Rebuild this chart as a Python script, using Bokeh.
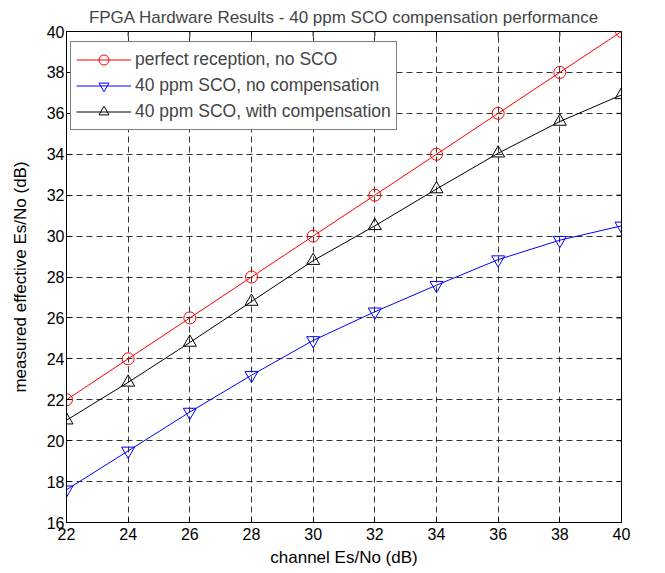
import math
from bokeh.plotting import figure
from bokeh.models import Range1d, FixedTicker
from bokeh.embed import file_html
from bokeh.resources import INLINE

x_vals = [22, 24, 26, 28, 30, 32, 34, 36, 38, 40]
perfect = [22, 24, 26, 28, 30, 32, 34, 36, 38, 40]
no_comp = [17.6, 19.5, 21.4, 23.2, 24.9, 26.3, 27.6, 28.85, 29.8, 30.5]
with_comp = [21.0, 22.85, 24.8, 26.8, 28.8, 30.5, 32.3, 34.05, 35.6, 36.9]
x_ticks = [22, 24, 26, 28, 30, 32, 34, 36, 38, 40]
y_ticks = [16, 18, 20, 22, 24, 26, 28, 30, 32, 34, 36, 38, 40]
x_lo, x_hi = 22, 40
y_lo, y_hi = 16, 40

FONT = "Liberation Sans"

p = figure(width=655, height=571, output_backend="svg", toolbar_location=None,
           x_range=Range1d(x_lo, x_hi), y_range=Range1d(y_lo, y_hi),
           title="FPGA Hardware Results - 40 ppm SCO compensation performance",
           x_axis_label="channel Es/No (dB)", y_axis_label="measured effective Es/No (dB)",
           min_border_left=66, min_border_right=34, min_border_top=31, min_border_bottom=49)

p.title.text_font = FONT
p.title.text_font_size = "17px"
p.title.text_font_style = "normal"
p.title.align = "center"
p.title.offset = 0
p.title.standoff = 9

p.outline_line_color = "black"
p.outline_line_width = 1
p.background_fill_color = "white"
p.border_fill_color = "white"

for ax in (p.xaxis[0], p.yaxis[0]):
    ax.major_label_text_font = FONT
    ax.major_label_text_font_size = "16px"
    ax.axis_label_text_font = FONT
    ax.axis_label_text_font_size = "17px"
    ax.axis_label_text_font_style = "normal"
    ax.major_tick_in = 5
    ax.major_tick_out = 0
    ax.minor_tick_line_color = None
    ax.axis_line_color = "black"
    ax.major_tick_line_color = "black"
    ax.major_label_text_color = "black"
    ax.axis_label_text_color = "black"

p.xaxis[0].major_label_standoff = 5
p.xaxis[0].axis_label_standoff = 5
p.yaxis[0].major_label_standoff = 2
p.yaxis[0].axis_label_standoff = 14

p.xaxis[0].ticker = FixedTicker(ticks=x_ticks)
p.yaxis[0].ticker = FixedTicker(ticks=y_ticks)

p.xgrid.ticker = FixedTicker(ticks=x_ticks)
p.ygrid.ticker = FixedTicker(ticks=y_ticks)
for g in (p.xgrid[0], p.ygrid[0]):
    g.grid_line_color = "black"
    g.grid_line_alpha = 0.8
    g.grid_line_dash = "6 4"
    g.grid_line_width = 1

# mirrored inward ticks on top and right edges
p.ray(x=x_ticks, y=[y_hi] * len(x_ticks), length=5, length_units="screen",
      angle=-math.pi / 2, color="black", line_width=1)
p.ray(x=[x_hi] * len(y_ticks), y=y_ticks, length=5, length_units="screen",
      angle=math.pi, color="black", line_width=1)

p.line(x_vals, perfect, color="red", line_width=1, legend_label="perfect reception, no SCO")
p.scatter(x_vals, perfect, marker="circle", size=12, line_color="red", fill_color=None,
          legend_label="perfect reception, no SCO")
p.line(x_vals, no_comp, color="blue", line_width=1, legend_label="40 ppm SCO, no compensation")
p.scatter(x_vals, no_comp, marker="inverted_triangle", size=13, line_color="blue", fill_color=None,
          legend_label="40 ppm SCO, no compensation")
p.line(x_vals, with_comp, color="black", line_width=1, legend_label="40 ppm SCO, with compensation")
p.scatter(x_vals, with_comp, marker="triangle", size=13, line_color="black", fill_color=None,
          legend_label="40 ppm SCO, with compensation")

lg = p.legend[0]
lg.location = (4, 392)
lg.margin = 0
lg.padding = 5
lg.spacing = 1
lg.glyph_width = 55
lg.glyph_height = 25
lg.label_height = 25
lg.label_text_font = FONT
lg.label_text_font_size = "17.5px"
lg.label_standoff = 4
lg.border_line_color = "black"
lg.border_line_width = 1
lg.background_fill_alpha = 1

open("out.html", "w").write(file_html(p, INLINE))
